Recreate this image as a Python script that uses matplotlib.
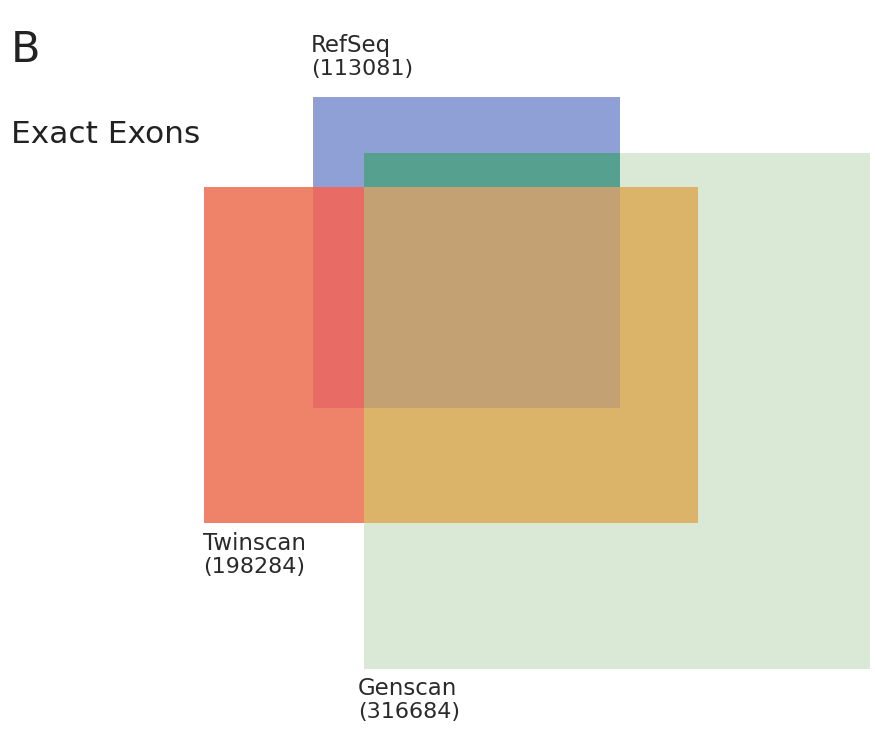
import matplotlib

matplotlib.use('Agg')

import matplotlib.pyplot as plt
import numpy as np
from matplotlib.colors import to_rgba

# gene sets and their exon counts
set_names = ['RefSeq', 'Genscan', 'Twinscan']
set_counts = [113081, 316684, 198284]

# box extents of each set (left, right, top, bottom) in picture units
box_left = [313, 364, 204]
box_right = [620, 870, 698]
box_top = [97, 153, 187]
box_bottom = [408, 669, 523]

# colour of each overlap region, keyed by membership (RefSeq, Genscan, Twinscan)
region_colors = {
    (1, 0, 0): '#8fa0d6',
    (0, 1, 0): '#d9e9d5',
    (0, 0, 1): '#ee836a',
    (1, 1, 0): '#55a08f',
    (1, 0, 1): '#e96b66',
    (0, 1, 1): '#dbb469',
    (1, 1, 1): '#c3a173',
}

W, H = 875, 737
fig = plt.figure(figsize=(W / 100, H / 100), dpi=100)
ax = fig.add_axes([0, 0, 1, 1])
ax.set_xlim(0, W)
ax.set_ylim(H, 0)
ax.axis('off')

# split the plane at every box edge and colour each cell by which sets hold it
xs = np.unique(box_left + box_right)
ys = np.unique(box_top + box_bottom)
rgba = np.ones((len(ys) - 1, len(xs) - 1, 4))
rgba[..., 3] = 0
for j in range(len(ys) - 1):
    for i in range(len(xs) - 1):
        cx = (xs[i] + xs[i + 1]) / 2
        cy = (ys[j] + ys[j + 1]) / 2
        key = tuple(int(box_left[k] < cx < box_right[k] and box_top[k] < cy < box_bottom[k])
                    for k in range(len(set_names)))
        if any(key):
            rgba[j, i] = to_rgba(region_colors[key])
ax.pcolormesh(xs, ys, rgba, shading='flat', antialiased=False, zorder=1)

font = 'DejaVu Sans'
ax.text(11, 62, 'B', fontsize=31, family=font, color='#222222', va='baseline')
ax.text(11, 143, 'Exact Exons', fontsize=22.5, family=font, color='#222222', va='baseline')

label_pos = {
    'RefSeq': (311, 52),
    'Genscan': (358, 695),
    'Twinscan': (203, 550),
}
for name, count in zip(set_names, set_counts):
    x, y = label_pos[name]
    ax.text(x, y, name, fontsize=16.5, family=font, color='#2a2a2a', va='baseline')
    ax.text(x, y + 23, f'({count})', fontsize=16, family=font, color='#2a2a2a', va='baseline')

plt.savefig('out.png', dpi=100)
plt.close()
